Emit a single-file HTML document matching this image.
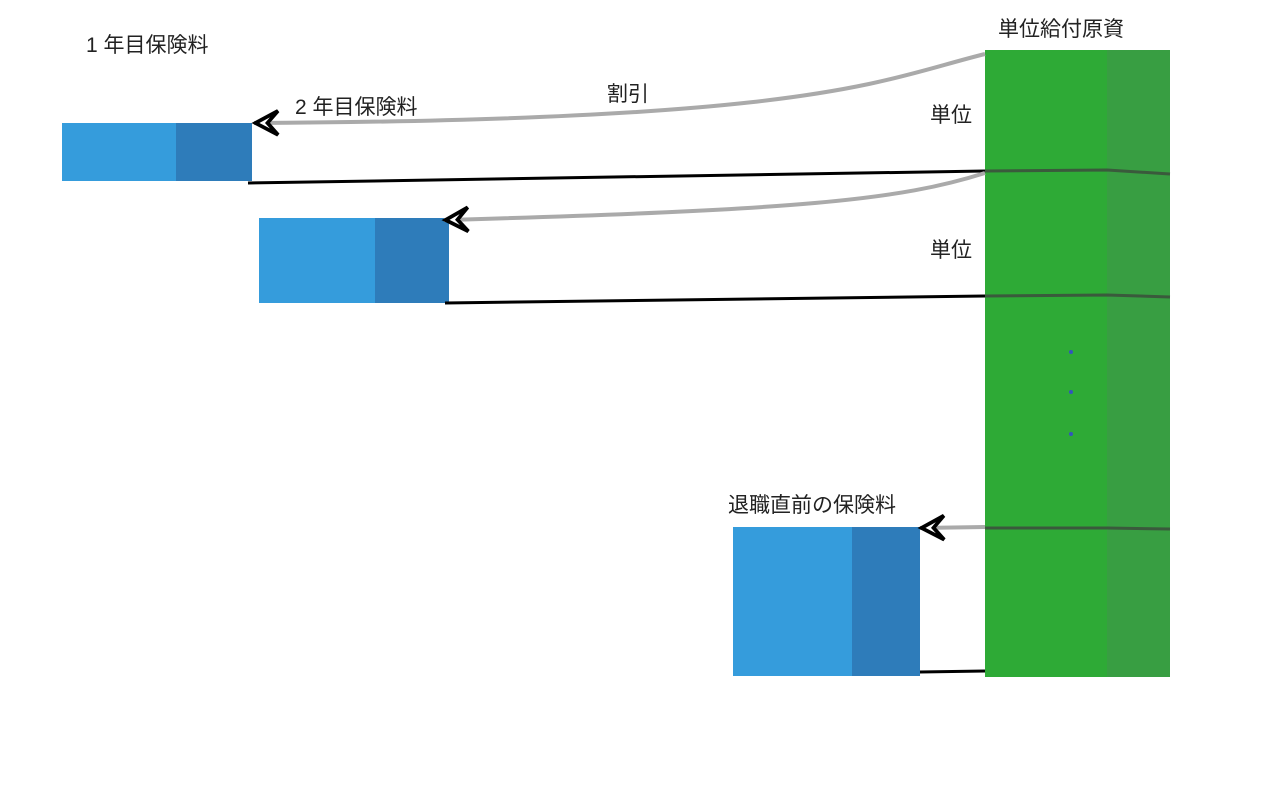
<!DOCTYPE html>
<html><head><meta charset="utf-8"><style>
body{margin:0;background:#fff;width:1284px;height:788px;overflow:hidden}
svg text{font-family:"Liberation Sans","Noto Sans CJK JP",sans-serif;font-size:21px;fill:#222}
</style></head><body>
<svg width="1284" height="788" viewBox="0 0 1284 788">
<defs>
<marker id="a" viewBox="0 0 20 20" refX="18" refY="10" markerWidth="30" markerHeight="30" markerUnits="userSpaceOnUse" orient="auto">
<path d="M2,2 L17,10 L2,18 L9,10 Z" fill="#fff" stroke="#000" stroke-width="2.5" stroke-linejoin="miter"/>
</marker>
</defs>
<rect x="985" y="50" width="122" height="627" fill="#2eaa36"/>
<rect x="1107" y="50" width="63" height="627" fill="#389e42"/>
<path d="M985,171 L1107,170 L1170,174" stroke="#3a5a3c" stroke-width="3" fill="none"/>
<path d="M985,296 L1107,295 L1170,297" stroke="#3a5a3c" stroke-width="3" fill="none"/>
<path d="M985,528 L1107,528 L1170,529" stroke="#3a5a3c" stroke-width="3" fill="none"/>
<circle cx="1071" cy="352" r="2" fill="#3355bb"/>
<circle cx="1071" cy="392" r="2" fill="#3355bb"/>
<circle cx="1071" cy="434" r="2" fill="#3355bb"/>
<rect x="62" y="123" width="114" height="58" fill="#359cdc"/>
<rect x="176" y="123" width="76" height="58" fill="#2e7cba"/>
<rect x="259" y="218" width="116" height="85" fill="#359cdc"/>
<rect x="375" y="218" width="74" height="85" fill="#2e7cba"/>
<rect x="733" y="527" width="119" height="149" fill="#359cdc"/>
<rect x="852" y="527" width="68" height="149" fill="#2e7cba"/>
<line x1="248" y1="183" x2="985" y2="171" stroke="#000" stroke-width="3"/>
<line x1="445" y1="303" x2="985" y2="296" stroke="#000" stroke-width="3"/>
<line x1="920" y1="672" x2="985" y2="671" stroke="#000" stroke-width="3"/>
<path d="M985,54 C880,80 820,120 254,123" stroke="#aaa" stroke-width="4" fill="none" marker-end="url(#a)"/>
<path d="M985,173 C900,200 800,210 444,220" stroke="#aaa" stroke-width="4" fill="none" marker-end="url(#a)"/>
<path d="M985,527 L920,528" stroke="#aaa" stroke-width="4" fill="none" marker-end="url(#a)"/>
<text x="86" y="52">1 年目保険料</text>
<text x="295" y="114">2 年目保険料</text>
<text x="607" y="101">割引</text>
<text x="930" y="122">単位</text>
<text x="930" y="257">単位</text>
<text x="998" y="36">単位給付原資</text>
<text x="728" y="512">退職直前の保険料</text>
</svg>
</body></html>
